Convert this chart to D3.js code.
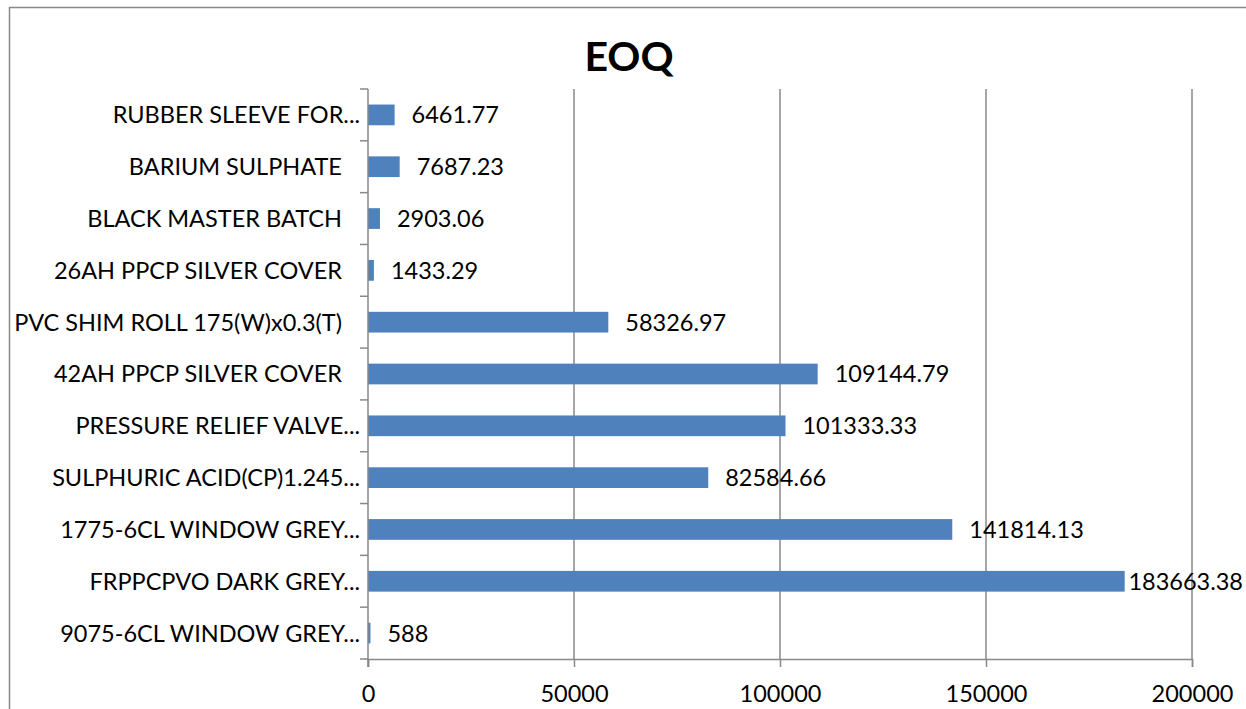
<!DOCTYPE html>
<html>
<head>
<meta charset="utf-8">
<script src="https://cdn.jsdelivr.net/npm/d3@7"></script>
<style>
  html, body { margin: 0; padding: 0; background: #fff; }
  svg { display: block; }
  text { font-family: Lato, "Open Sans", sans-serif; fill: #000; }
</style>
</head>
<body>
<svg id="chart" width="1246" height="709"></svg>
<script>
const title = "EOQ";
const categories = [
  "RUBBER SLEEVE FOR...",
  "BARIUM SULPHATE ",
  "BLACK MASTER BATCH ",
  "26AH PPCP SILVER COVER ",
  "PVC SHIM ROLL 175(W)x0.3(T) ",
  "42AH PPCP SILVER COVER ",
  "PRESSURE RELIEF VALVE...",
  "SULPHURIC ACID(CP)1.245...",
  "1775-6CL WINDOW GREY...",
  "FRPPCPVO DARK GREY...",
  "9075-6CL WINDOW GREY..."
];
const values = [6461.77, 7687.23, 2903.06, 1433.29, 58326.97, 109144.79, 101333.33, 82584.66, 141814.13, 183663.38, 588];
const valueLabels = ["6461.77", "7687.23", "2903.06", "1433.29", "58326.97", "109144.79", "101333.33", "82584.66", "141814.13", "183663.38", "588"];
const xTicks = [0, 50000, 100000, 150000, 200000];

const svg = d3.select("#chart");
const pLeft = 368, pRight = 1192, pTop = 89, pBottom = 659;
const gridColor = "#898989";
const fs = 23.5;

// outer border
svg.append("path")
  .attr("d", `M9.5,710 L9.5,7.5 L1250,7.5`)
  .attr("fill", "none").attr("stroke", gridColor).attr("stroke-width", 1.5);

const x = d3.scaleLinear().domain([0, 200000]).range([pLeft, pRight]);
const y = d3.scaleBand().domain(categories).range([pTop, pBottom]).paddingInner(0.6).paddingOuter(0.3);
const yb = d3.scaleBand().domain(categories).range([pTop, pBottom]);

// gridlines
svg.append("g").selectAll("line").data(xTicks.slice(1)).join("line")
  .attr("x1", d => x(d)).attr("x2", d => x(d))
  .attr("y1", pTop).attr("y2", pBottom)
  .attr("stroke", gridColor).attr("stroke-width", 1.5);

// bars
svg.append("g").selectAll("rect").data(values).join("rect")
  .attr("x", x(0))
  .attr("y", (d, i) => y(categories[i]))
  .attr("width", d => x(d) - x(0))
  .attr("height", y.bandwidth())
  .attr("fill", "#4F81BD");

// x axis
const xAxis = d3.axisBottom(x).tickValues(xTicks).tickSize(8).tickFormat(d3.format("d"));
const gx = svg.append("g").attr("transform", `translate(0,${pBottom})`).call(xAxis);
gx.select(".domain").attr("stroke", gridColor).attr("stroke-width", 1.5);
gx.selectAll(".tick line").attr("stroke", gridColor).attr("stroke-width", 1.5);
gx.selectAll(".tick text").attr("font-size", fs).attr("dy", 0).attr("y", 43)
  .style("font-family", "Lato, sans-serif").attr("fill", "#000");

// y axis
const gy = svg.append("g");
gy.append("line").attr("x1", pLeft).attr("x2", pLeft).attr("y1", pTop).attr("y2", pBottom + 8)
  .attr("stroke", gridColor).attr("stroke-width", 1.5);
const bounds = categories.map(c => yb(c)).concat([pBottom]);
gy.selectAll("line.tk").data(bounds).join("line").attr("class", "tk")
  .attr("x1", pLeft - 8).attr("x2", pLeft)
  .attr("y1", d => d).attr("y2", d => d)
  .attr("stroke", gridColor).attr("stroke-width", 1.5);
gy.selectAll("text").data(categories).join("text")
  .attr("x", 360)
  .attr("y", d => yb(d) + yb.bandwidth() / 2)
  .attr("dy", "0.36em")
  .attr("text-anchor", "end")
  .attr("font-size", fs)
  .text(d => d.replace(/ $/, "\u00A0\u00A0\u00A0"));

// value labels
svg.append("g").selectAll("text").data(values).join("text")
  .attr("y", (d, i) => yb(categories[i]) + yb.bandwidth() / 2)
  .attr("dy", "0.36em")
  .attr("font-size", fs)
  .text((d, i) => valueLabels[i])
  .attr("x", function(d) {
    const w = this.getComputedTextLength();
    return Math.min(x(d) + 17, 1243 - w);
  });

// title
svg.append("text")
  .attr("x", 629).attr("y", 71)
  .attr("text-anchor", "middle")
  .attr("font-size", 41)
  .attr("font-weight", "bold")
  .text(title);
</script>
</body>
</html>
